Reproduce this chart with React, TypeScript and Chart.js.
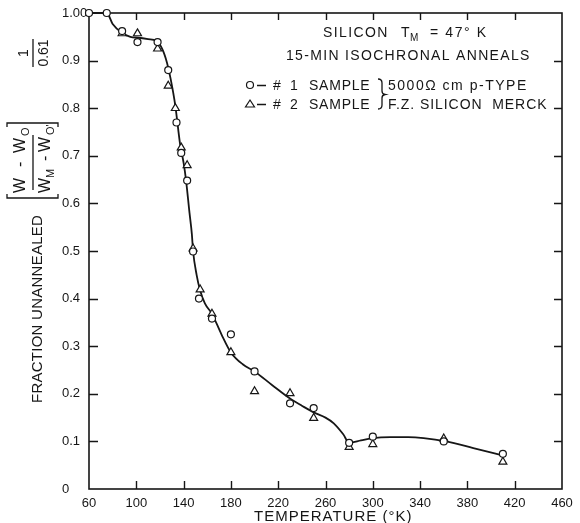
import React, { useEffect, useRef } from 'react';
import { Chart, registerables } from 'chart.js';

Chart.register(...registerables);

// ---- Data ----
const sample1Temps = [60, 75, 88, 101, 118, 127, 134, 138, 143, 148, 153, 164, 180, 200, 230, 250, 280, 300, 360, 410];
const sample1Fraction = [1.0, 1.0, 0.962, 0.939, 0.939, 0.88, 0.77, 0.706, 0.648, 0.499, 0.4, 0.358, 0.325, 0.247, 0.18, 0.17, 0.097, 0.11, 0.1, 0.074];

const sample2Temps = [88, 101, 118, 127, 133, 138, 143, 148, 154, 164, 180, 200, 230, 250, 280, 300, 360, 410];
const sample2Fraction = [0.957, 0.957, 0.925, 0.847, 0.8, 0.717, 0.68, 0.505, 0.419, 0.368, 0.287, 0.205, 0.201, 0.149, 0.088, 0.094, 0.106, 0.057];

const curveTemps = [60, 75, 80, 88, 95, 102, 110, 117, 122, 126, 129, 133, 137, 140, 142, 145, 147, 148, 151, 154, 158, 164, 172, 180, 190, 200, 215, 230, 240, 250, 260, 267, 275, 280, 290, 300, 315, 330, 343, 362, 385, 412];
const curveFraction = [1.0, 1.0, 0.977, 0.958, 0.95, 0.948, 0.945, 0.941, 0.924, 0.895, 0.862, 0.805, 0.725, 0.685, 0.65, 0.58, 0.535, 0.5, 0.45, 0.417, 0.39, 0.368, 0.325, 0.287, 0.262, 0.247, 0.218, 0.19, 0.175, 0.161, 0.15, 0.138, 0.115, 0.097, 0.102, 0.107, 0.109, 0.109, 0.107, 0.1, 0.086, 0.069];

const xTickValues = [60, 100, 140, 180, 220, 260, 300, 340, 380, 420, 460];
const yTickValues = [0, 0.1, 0.2, 0.3, 0.4, 0.5, 0.6, 0.7, 0.8, 0.9, 1.0];

const titleLine1 = 'SILICON';
const titleLine1b = '= 47° K';
const titleLine2 = '15-MIN ISOCHRONAL ANNEALS';
const legend1 = 'SAMPLE';
const legendNote1 = '5000Ω cm p-TYPE';
const legendNote2 = 'F.Z. SILICON  MERCK';
const xTitle = 'TEMPERATURE (°K)';
const yTitle = 'FRACTION UNANNEALED';

const FONT = '"Liberation Sans", Arial, sans-serif';
const INK = '#161616';

function fitText(ctx: CanvasRenderingContext2D, text: string, left: number, y: number, width: number, font: string) {
  ctx.save();
  ctx.font = font;
  (ctx as any).letterSpacing = '0px';
  ctx.textAlign = 'left';
  const nat = ctx.measureText(text).width;
  if (text.length > 1 && width > nat) {
    const sp = (width - nat) / (text.length - 0.5);
    (ctx as any).letterSpacing = sp + 'px';
    ctx.fillText(text, left, y);
  } else {
    ctx.translate(left, y);
    ctx.scale(width / nat, 1);
    ctx.fillText(text, 0, 0);
  }
  ctx.restore();
}

const framePlugin = {
  id: 'frame',
  beforeDatasetsDraw(chart: any) {
    const ctx: CanvasRenderingContext2D = chart.ctx;
    const { left, right, top, bottom } = chart.chartArea;
    const xs = chart.scales.x;
    const ys = chart.scales.y;
    ctx.save();
    ctx.strokeStyle = INK;
    ctx.lineWidth = 1.6;
    ctx.strokeRect(left, top, right - left, bottom - top);
    ctx.lineWidth = 1.4;
    ctx.beginPath();
    xTickValues.slice(1, -1).forEach((v) => {
      const px = Math.round(xs.getPixelForValue(v)) + 0.5;
      ctx.moveTo(px, bottom);
      ctx.lineTo(px, bottom - 8);
      ctx.moveTo(px, top);
      ctx.lineTo(px, top + 7);
    });
    yTickValues.slice(1, -1).forEach((v) => {
      const py = Math.round(ys.getPixelForValue(v)) + 0.5;
      ctx.moveTo(left, py);
      ctx.lineTo(left + 9, py);
      ctx.moveTo(right, py);
      ctx.lineTo(right - 8, py);
    });
    ctx.stroke();
    ctx.restore();
  },
  afterDraw(chart: any) {
    const ctx: CanvasRenderingContext2D = chart.ctx;
    ctx.save();
    ctx.fillStyle = INK;
    ctx.strokeStyle = INK;
    ctx.textBaseline = 'alphabetic';

    // Title block
    fitText(ctx, titleLine1, 323, 37, 65, `14px ${FONT}`);
    ctx.font = `14px ${FONT}`;
    ctx.fillText('T', 401, 37);
    ctx.font = `10px ${FONT}`;
    ctx.fillText('M', 410, 41);
    fitText(ctx, titleLine1b, 430, 37, 57, `14px ${FONT}`);
    fitText(ctx, titleLine2, 286, 60, 244, `14px ${FONT}`);

    // Legend
    ctx.lineWidth = 1.2;
    ctx.beginPath();
    ctx.arc(250, 85, 3.5, 0, Math.PI * 2);
    ctx.stroke();
    ctx.beginPath();
    ctx.moveTo(250, 100);
    ctx.lineTo(254.5, 107);
    ctx.lineTo(245.5, 107);
    ctx.closePath();
    ctx.stroke();
    ctx.lineWidth = 1.3;
    ctx.beginPath();
    ctx.moveTo(257, 85.5);
    ctx.lineTo(266, 85.5);
    ctx.moveTo(257, 104.5);
    ctx.lineTo(266, 104.5);
    ctx.stroke();
    ctx.font = `14px ${FONT}`;
    ctx.fillText('#', 273, 90);
    ctx.fillText('1', 290, 90);
    ctx.fillText('#', 273, 109);
    ctx.fillText('2', 290, 109);
    fitText(ctx, legend1, 309, 90, 61, `14px ${FONT}`);
    fitText(ctx, legend1, 309, 109, 61, `14px ${FONT}`);
    // brace
    ctx.lineWidth = 1.3;
    ctx.beginPath();
    ctx.moveTo(378, 79);
    ctx.quadraticCurveTo(382, 79, 382, 83);
    ctx.lineTo(382, 91);
    ctx.quadraticCurveTo(382, 94, 385, 94.5);
    ctx.quadraticCurveTo(382, 95, 382, 98);
    ctx.lineTo(382, 105);
    ctx.quadraticCurveTo(382, 109, 378, 109);
    ctx.stroke();
    fitText(ctx, legendNote1, 388, 90, 139, `14px ${FONT}`);
    fitText(ctx, legendNote2, 388, 109, 159, `14px ${FONT}`);

    // X axis title
    fitText(ctx, xTitle, 254, 521, 158, `15px ${FONT}`);

    // Y axis title (rotated)
    ctx.save();
    ctx.translate(37, 309);
    ctx.rotate(-Math.PI / 2);
    fitText(ctx, yTitle, -94, 5, 188, `15px ${FONT}`);
    ctx.restore();

    // Bracketed fraction (rotated)
    ctx.save();
    ctx.translate(33, 160);
    ctx.rotate(-Math.PI / 2);
    ctx.lineWidth = 1.3;
    ctx.beginPath();
    ctx.moveTo(-30, 0);
    ctx.lineTo(25, 0);
    // brackets
    ctx.moveTo(-34, -26);
    ctx.lineTo(-38, -26);
    ctx.lineTo(-38, 25);
    ctx.lineTo(-34, 25);
    ctx.moveTo(33, -26);
    ctx.lineTo(37, -26);
    ctx.lineTo(37, 25);
    ctx.lineTo(33, 25);
    ctx.stroke();
    ctx.font = `16px ${FONT}`;
    ctx.fillText('W', -33, -8);
    ctx.fillText('-', -7, -8);
    ctx.fillText('W', 7, -8);
    ctx.font = `11px ${FONT}`;
    ctx.fillText('O', 24, -4);
    ctx.font = `16px ${FONT}`;
    ctx.fillText('W', -33, 17);
    ctx.fillText('-', -1, 17);
    ctx.fillText('W', 8, 17);
    ctx.font = `11px ${FONT}`;
    ctx.fillText('M', -18, 21);
    ctx.fillText("O'", 25, 21);
    ctx.restore();

    // 1 / 0.61 (rotated)
    ctx.save();
    ctx.translate(33, 53);
    ctx.rotate(-Math.PI / 2);
    ctx.lineWidth = 1.3;
    ctx.beginPath();
    ctx.moveTo(-14, 0);
    ctx.lineTo(14, 0);
    ctx.stroke();
    ctx.font = `14px ${FONT}`;
    ctx.textAlign = 'center';
    ctx.fillText('1', 0, -5);
    ctx.fillText('0.61', 0, 15);
    ctx.restore();

    ctx.restore();
  },
};

export default function App() {
  const canvasRef = useRef<HTMLCanvasElement>(null);

  useEffect(() => {
    const canvas = canvasRef.current;
    if (!canvas) return;
    const curve = curveTemps.map((t, i) => ({ x: t, y: curveFraction[i] }));
    const s1 = sample1Temps.map((t, i) => ({ x: t, y: sample1Fraction[i] }));
    const s2 = sample2Temps.map((t, i) => ({ x: t, y: sample2Fraction[i] }));

    const chart = new Chart(canvas, {
      type: 'scatter',
      data: {
        datasets: [
          {
            label: '#1 SAMPLE',
            data: s1,
            pointStyle: 'circle',
            pointRadius: 3.5,
            backgroundColor: '#ffffff',
            borderColor: INK,
            borderWidth: 1.2,
            clip: false,
            order: 0,
          } as any,
          {
            label: '#2 SAMPLE',
            data: s2,
            pointStyle: 'triangle',
            pointRadius: 4.6,
            backgroundColor: '#ffffff',
            borderColor: INK,
            borderWidth: 1.2,
            clip: false,
            order: 1,
          } as any,
          {
            type: 'line',
            label: 'curve',
            data: curve,
            showLine: true,
            pointRadius: 0,
            borderColor: INK,
            borderWidth: 1.8,
            fill: false,
            cubicInterpolationMode: 'monotone',
            clip: false,
            order: 2,
          } as any,
        ],
      },
      options: {
        responsive: false,
        animation: false,
        devicePixelRatio: 1,
        layout: { padding: { left: 62, right: 18, top: 13, bottom: 0 } },
        plugins: {
          legend: { display: false },
          tooltip: { enabled: false },
        },
        scales: {
          x: {
            type: 'linear',
            min: 60,
            max: 460,
            grid: { display: false, drawTicks: false },
            border: { display: false },
            afterFit: (scale: any) => {
              scale.height = 34;
            },
            afterBuildTicks: (scale: any) => {
              scale.ticks = xTickValues.map((v) => ({ value: v }));
            },
            ticks: {
              color: INK,
              font: { family: FONT, size: 13 },
              padding: 7,
              maxRotation: 0,
              autoSkip: false,
              callback: (v: any) => String(v),
            },
          },
          y: {
            type: 'linear',
            min: 0,
            max: 1,
            grid: { display: false, drawTicks: false },
            border: { display: false },
            afterFit: (scale: any) => {
              scale.width = 27;
            },
            afterBuildTicks: (scale: any) => {
              scale.ticks = yTickValues.map((v) => ({ value: v }));
            },
            ticks: {
              color: INK,
              font: { family: FONT, size: 13 },
              crossAlign: 'far',
              padding: 0,
              autoSkip: false,
              callback: (v: any) => {
                const n = Number(v);
                if (n === 0) return '0';
                if (Math.abs(n - 1) < 1e-9) return '1.00';
                return n.toFixed(1);
              },
            },
          },
        },
      } as any,
      plugins: [framePlugin],
    });
    return () => chart.destroy();
  }, []);

  return (
    <div style={{ position: 'absolute', left: 0, top: 0, width: 580, height: 523, background: '#ffffff' }}>
      <canvas ref={canvasRef} width={580} height={523} style={{ display: 'block' }} />
    </div>
  );
}
